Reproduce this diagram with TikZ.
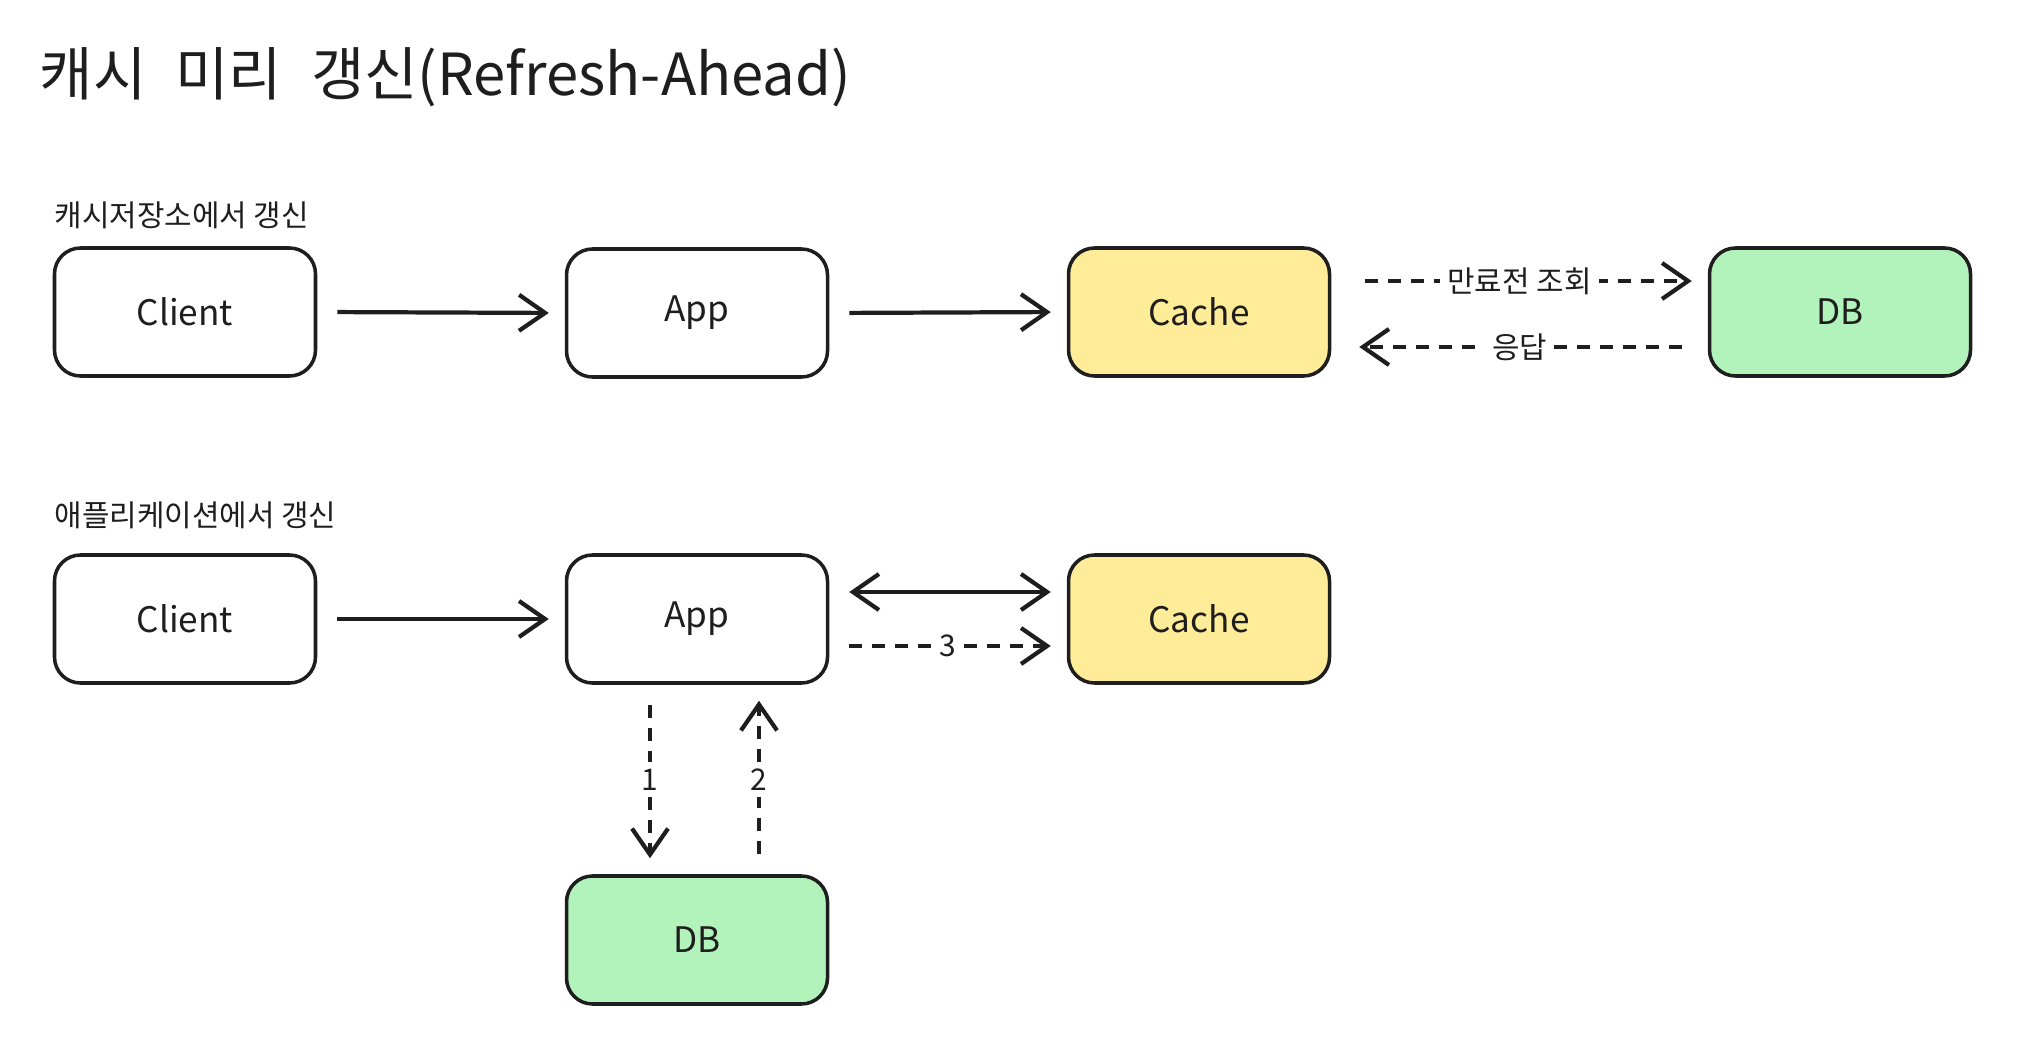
\documentclass[tikz,border=0pt]{standalone}
\usepackage{fontspec}
\setmainfont{Noto Sans CJK KR}
\usetikzlibrary{arrows.meta}
\definecolor{ink}{HTML}{1E1E1E}
\definecolor{cachefill}{HTML}{FFEC99}
\definecolor{dbfill}{HTML}{B2F2BB}
\tikzset{
	box/.style={draw=ink, line width=1pt, rounded corners=0.26cm, minimum width=2.61cm, minimum height=1.28cm, font=\fontsize{10}{12}\selectfont, text=ink},
	arr/.style={draw=ink, line width=1.2pt, -{Straight Barb[length=0.26cm, width=0.36cm]}, shorten <=0.2cm, shorten >=0.16cm},
	dsh/.style={dash pattern=on 0.13cm off 0.1cm},
	lbl/.style={fill=white, inner sep=2pt, text=ink, font=\fontsize{8.5}{10}\selectfont},
	heading/.style={anchor=west, inner sep=0pt, text=ink, font=\fontsize{8.5}{10}\selectfont}
}

\begin{document}
\begin{tikzpicture}
				\useasboundingbox (0, 0) rectangle (20.18, -10.40);
				
				\node[heading, font=\fontsize{16.5}{20}\selectfont] (title) at (0.39, -0.77) {캐시\hskip0.5em 미리\hskip0.5em 갱신(Refresh-Ahead)};
				
				\node[heading] (lab1) at (0.54, -2.15) {캐시저장소에서 갱신};
				\node[box] (cl1) at (1.85, -3.12) {Client};
				\node[box] (ap1) at (6.97, -3.13) {App};
				\node[box, fill=cachefill] (ca1) at (11.99, -3.12) {Cache};
				\node[box, fill=dbfill] (db1) at (18.40, -3.12) {DB};
				
				\draw[arr] (cl1.east) -- (ap1.west);
				\draw[arr] (ap1.east) -- (ca1.west);
				\draw[arr, dsh, shorten <=0.34cm] ([yshift=0.31cm]ca1.east) -- node[lbl] {만료전 조회} ([yshift=0.31cm]db1.west);
				\draw[arr, dsh, shorten <=0.26cm, shorten >=0.28cm] ([yshift=-0.35cm]db1.west) -- node[lbl] {응답} ([yshift=-0.35cm]ca1.east);
				
				\node[heading] (lab2) at (0.54, -5.15) {애플리케이션에서 갱신};
				\node[box] (cl2) at (1.85, -6.19) {Client};
				\node[box] (ap2) at (6.97, -6.19) {App};
				\node[box, fill=cachefill] (ca2) at (11.99, -6.19) {Cache};
				\node[box, fill=dbfill] (db2) at (6.97, -9.40) {DB};
				
				\draw[arr] (cl2.east) -- (ap2.west);
				\draw[arr, {Straight Barb[length=0.26cm, width=0.36cm]}-{Straight Barb[length=0.26cm, width=0.36cm]}] ([yshift=0.27cm]ap2.east) -- ([yshift=0.27cm]ca2.west);
				\draw[arr, dsh] ([yshift=-0.27cm]ap2.east) -- node[lbl] {3} ([yshift=-0.27cm]ca2.west);
				\draw[arr, dsh] ([xshift=-0.47cm]ap2.south) -- node[lbl] {1} ([xshift=-0.47cm]db2.north);
				\draw[arr, dsh] ([xshift=0.62cm]db2.north) -- node[lbl] {2} ([xshift=0.62cm]ap2.south);
			\end{tikzpicture}
\end{document}
